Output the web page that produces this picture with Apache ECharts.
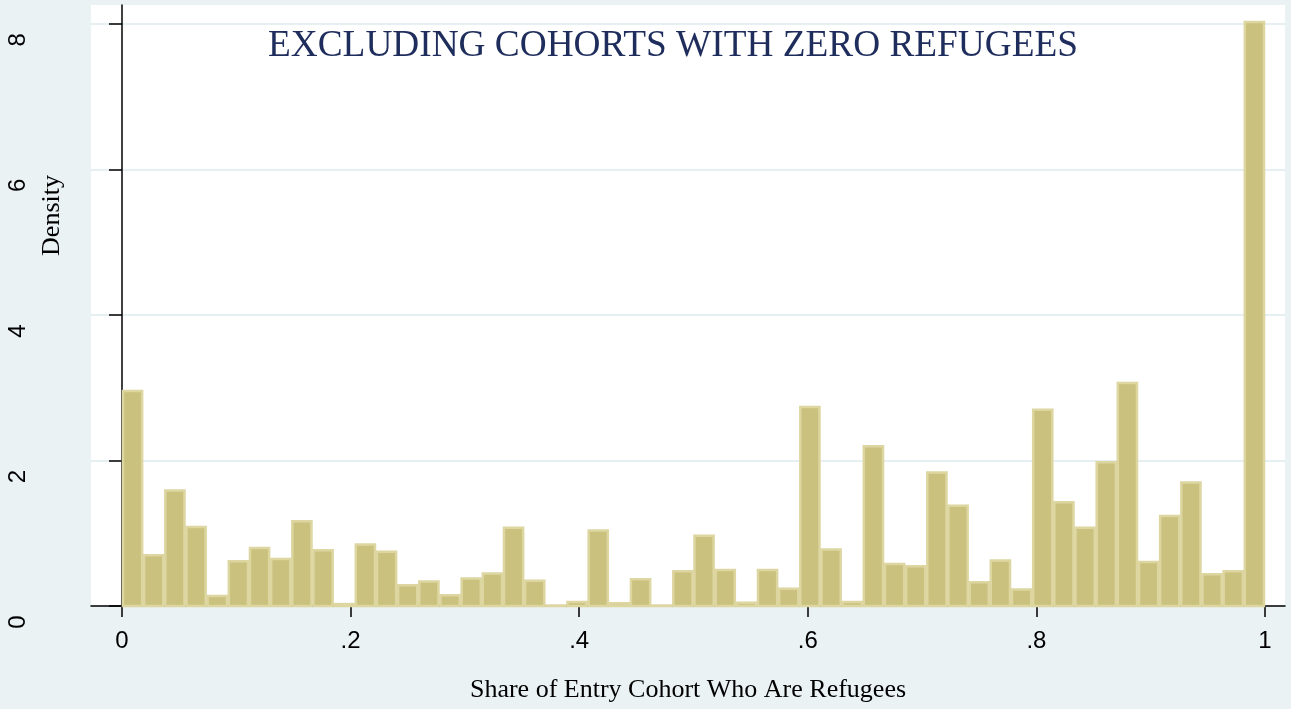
<!DOCTYPE html>
<html>
<head>
<meta charset="utf-8">
<title>Share of Entry Cohort Who Are Refugees</title>
<script src="https://cdn.jsdelivr.net/npm/echarts@6/dist/echarts.min.js"></script>
<style>
  html, body { margin: 0; padding: 0; background: #eaf2f3; }
  #chart { width: 1291px; height: 709px; }
</style>
</head>
<body>
<div id="chart"></div>
<script>
// histogram: 54 equal bins over [0, 1], density
const binCount = 54
const binFrom = 0
const binTo = 1
const density = [
  2.97, 0.71, 1.60, 1.10, 0.15, 0.63, 0.81, 0.66, 1.18, 0.78,
  0.04, 0.86, 0.76, 0.30, 0.35, 0.16, 0.39, 0.46, 1.09, 0.36,
  0.02, 0.07, 1.05, 0.05, 0.38, 0.02, 0.49, 0.98, 0.51, 0.06,
  0.51, 0.25, 2.75, 0.79, 0.07, 2.21, 0.59, 0.56, 1.85, 1.39,
  0.34, 0.64, 0.24, 2.71, 1.44, 1.09, 1.99, 3.08, 0.62, 1.25,
  1.71, 0.45, 0.49, 8.04
]
const xTicks = [0, 0.2, 0.4, 0.6, 0.8, 1]
const xTickLabels = ['0', '.2', '.4', '.6', '.8', '1']
const yTicks = [0, 2, 4, 6, 8]

const binWidth = (binTo - binFrom) / binCount
let bars = density.map((d, i) => [binFrom + i * binWidth, binFrom + (i + 1) * binWidth, d])

let chart = echarts.init(document.getElementById('chart'))

let option = {
  backgroundColor: '#eaf2f3',
  animation: false,
  title: {
    text: 'EXCLUDING COHORTS WITH ZERO REFUGEES',
    left: 268,
    top: 28,
    padding: 0,
    textStyle: {
      fontFamily: 'Liberation Serif',
      fontSize: 37.3,
      fontWeight: 'normal',
      color: '#1e2d5c'
    }
  },
  grid: {
    left: 91,
    right: 6,
    top: 5,
    bottom: 103,
    containLabel: false,
    outerBoundsMode: 'none',
    show: true,
    backgroundColor: '#ffffff',
    borderWidth: 0
  },
  xAxis: {
    type: 'value',
    min: -0.0271,
    max: 1.0175,
    name: 'Share of Entry Cohort Who Are Refugees',
    nameLocation: 'middle',
    nameGap: 71,
    nameMoveOverlap: false,
    nameTextStyle: {
      fontFamily: 'Liberation Serif',
      fontSize: 26,
      color: '#000000'
    },
    axisLine: { show: true, lineStyle: { color: '#000000', width: 1.5 } },
    axisTick: {
      show: true,
      length: 11,
      customValues: xTicks,
      lineStyle: { color: '#000000', width: 1.5 }
    },
    axisLabel: {
      customValues: xTicks,
      margin: 23,
      fontFamily: 'Liberation Sans',
      fontSize: 24,
      color: '#000000',
      formatter: function (v) {
        let i = xTicks.findIndex(t => Math.abs(t - v) < 1e-9)
        return i >= 0 ? xTickLabels[i] : ''
      }
    },
    splitLine: { show: false }
  },
  yAxis: {
    type: 'value',
    min: 0,
    max: 8.26,
    name: 'Density',
    nameLocation: 'middle',
    nameRotate: 90,
    nameGap: 26,
    nameMoveOverlap: false,
    nameTextStyle: {
      fontFamily: 'Liberation Serif',
      fontSize: 26,
      color: '#000000',
      padding: [0, 0, 0, 180]
    },
    axisLine: { show: true, lineStyle: { color: '#000000', width: 1.5 } },
    axisTick: {
      show: true,
      length: 13,
      customValues: yTicks,
      lineStyle: { color: '#000000', width: 1.5 }
    },
    axisLabel: {
      customValues: yTicks,
      rotate: 90,
      margin: 61,
      fontFamily: 'Liberation Sans',
      fontSize: 24,
      color: '#000000',
      padding: [0, 32, 0, 0]
    },
    splitLine: {
      show: true,
      customValues: yTicks.slice(1),
      lineStyle: { color: '#e6eff1', width: 2 }
    }
  },
  series: [
    {
      type: 'custom',
      data: bars,
      encode: { x: [0, 1], y: 2 },
      clip: false,
      renderItem: function (params, api) {
        let topLeft = api.coord([api.value(0), api.value(2)])
        let bottomRight = api.coord([api.value(1), 0])
        return {
          type: 'rect',
          shape: {
            x: topLeft[0] + 1,
            y: topLeft[1] + 1,
            width: bottomRight[0] - topLeft[0] - 2,
            height: bottomRight[1] - topLeft[1] - 1
          },
          style: {
            fill: '#c9c17d',
            stroke: '#ddd6a1',
            lineWidth: 2.5
          }
        }
      }
    }
  ]
}

chart.setOption(option)
</script>
</body>
</html>
